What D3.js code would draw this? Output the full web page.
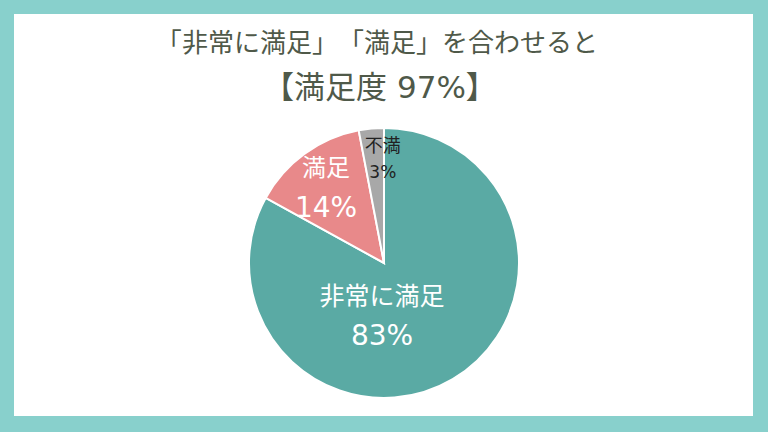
<!DOCTYPE html>
<html>
<head>
<meta charset="utf-8">
<script src="https://cdn.jsdelivr.net/npm/d3@7"></script>
<style>
  html, body { margin: 0; padding: 0; background: #88d0cc; }
  svg { display: block; }
</style>
</head>
<body>
<svg id="chart" width="768" height="432"></svg>
<script>
var categories = ["非常に満足", "満足", "不満"];
var values = [83, 14, 3];
var valueLabels = ["83%", "14%", "3%"];
var titleLines = ["「非常に満足」「満足」を合わせると", "【満足度 97%】"];

var width = 768, height = 432;
var font = "'DejaVu Sans', 'Noto Sans CJK JP', sans-serif";

var svg = d3.select("svg#chart");

// white card inside the teal frame
svg.append("rect")
    .attr("x", 14)
    .attr("y", 14)
    .attr("width", 739)
    .attr("height", 402)
    .attr("fill", "#ffffff");

// browser squeezes 」「 together, so put the half-width gap back
var titleSize = 26;
var titleDx = Array.from(titleLines[0]).map((ch, i, arr) => (ch == "「" && arr[i - 1] == "」") ? titleSize / 2 : 0);

svg.append("text")
    .attr("x", 377)
    .attr("y", 52)
    .attr("dx", titleDx.join(" "))
    .style("text-anchor", "middle")
    .style("font-family", font)
    .style("font-size", titleSize + "px")
    .style("fill", "#4f5949")
    .text(titleLines[0]);

svg.append("text")
    .attr("x", 380)
    .attr("y", 98)
    .style("text-anchor", "middle")
    .style("font-family", font)
    .style("font-size", "31px")
    .style("fill", "#4f5949")
    .text(titleLines[1]);

var color = d3.scaleOrdinal()
    .domain(categories)
    .range(["#5aaaa4", "#e8898a", "#a8a8a8"]);

var radius = 135;
var pie = d3.pie().sort(null).value(d => d.value);
var arc = d3.arc().innerRadius(0).outerRadius(radius);

var data = categories.map((c, i) => ({ name: c, value: values[i], label: valueLabels[i] }));
var arcs = pie(data);

var g = svg.append("g")
    .attr("transform", "translate(384,263)");

g.selectAll("path")
    .data(arcs)
    .enter()
    .append("path")
    .attr("d", arc)
    .attr("fill", d => color(d.data.name))
    .attr("stroke", "#ffffff")
    .attr("stroke-width", 2);

// label placement per slice: radius fraction, nudges, font sizes, colour
var labelStyle = [
    { r: 0.0, dx: -2, nameY: 42, valY: 82, name: 25, val: 28, fill: "#ffffff" },
    { r: 0.73, dx: 0, nameY: -7, valY: 34, name: 24, val: 28, fill: "#ffffff" },
    { r: 0.8, dx: 9, nameY: -3.5, valY: 22.5, name: 18, val: 17, fill: "#222222" }
];

var labels = g.selectAll("g.label")
    .data(arcs)
    .enter()
    .append("g")
    .attr("class", "label")
    .attr("transform", function(d, i) {
        var s = labelStyle[i];
        var a = (d.startAngle + d.endAngle) / 2;
        var x = Math.sin(a) * radius * s.r + s.dx;
        var y = -Math.cos(a) * radius * s.r;
        return "translate(" + x + "," + y + ")";
    });

labels.append("text")
    .attr("y", (d, i) => labelStyle[i].nameY)
    .style("text-anchor", "middle")
    .style("font-family", font)
    .style("font-size", (d, i) => labelStyle[i].name + "px")
    .style("fill", (d, i) => labelStyle[i].fill)
    .text(d => d.data.name);

labels.append("text")
    .attr("y", (d, i) => labelStyle[i].valY)
    .style("text-anchor", "middle")
    .style("font-family", font)
    .style("font-size", (d, i) => labelStyle[i].val + "px")
    .style("fill", (d, i) => labelStyle[i].fill)
    .text(d => d.data.label);
</script>
</body>
</html>
